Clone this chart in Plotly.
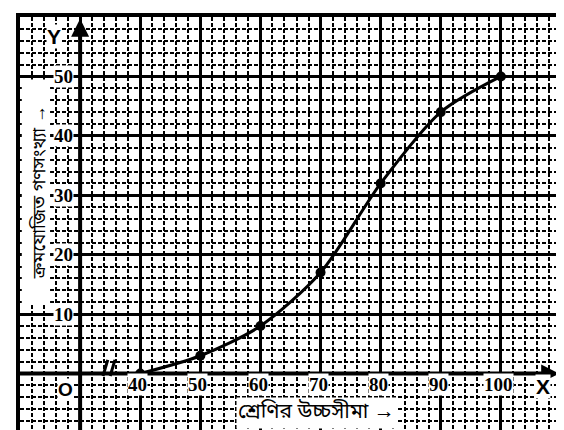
import plotly.graph_objects as go

# Data (read from the ogive)
upper_limits = [40, 50, 60, 70, 80, 90, 100]
cum_freq = [0, 3, 8, 17, 32, 44, 50]
x_tick_vals = [40, 50, 60, 70, 80, 90, 100]
x_tick_text = ["40", "50", "60", "70", "80", "90", "100"]
y_tick_vals = [10, 20, 30, 40, 50]
y_tick_text = ["10", "20", "30", "40", "50"]
x_title = "শ্রেণির উচ্চসীমা →"
y_title = "ক্রমযোজিত গণসংখ্যা →"

X0, X1 = 20, 110
Y0, Y1 = -10, 60
ORIGIN_X = 30

fig = go.Figure()
fig.add_trace(go.Scatter(
    x=upper_limits, y=cum_freq, mode="lines+markers",
    line=dict(color="black", width=3, shape="spline", smoothing=0.8),
    marker=dict(color="black", size=10),
    hoverinfo="x+y", showlegend=False,
))

axis_common = dict(
    showgrid=True, gridcolor="black", gridwidth=3,
    showline=True, linecolor="black", linewidth=3.5, mirror=True,
    zeroline=False, showticklabels=False, ticks="",
    minor=dict(dtick=2, showgrid=True, gridcolor="black", gridwidth=1.6,
               griddash="4px,2px"),
    fixedrange=True,
)
fig.update_xaxes(range=[X0, X1], dtick=10, tick0=0, **axis_common)
fig.update_yaxes(range=[Y0, Y1], dtick=10, tick0=0, **axis_common)

FONT = dict(family="Liberation Serif", size=19, color="black", weight="bold")
BN_FONT_X = dict(family="Noto Sans Bengali, Noto Sans, sans-serif", size=21, color="black")
BN_FONT_Y = dict(family="Noto Sans Bengali, Noto Sans, sans-serif", size=18, color="black")

shapes = []
# white panel behind y title
shapes.append(dict(type="rect", xref="x", yref="y", x0=X0 + 0.3, x1=25.0, y0=11.7, y1=49.5,
                   fillcolor="white", line=dict(width=0), layer="above"))
# x axis
shapes.append(dict(type="line", xref="x", yref="y", x0=X0, x1=X1 - 1.2, y0=0, y1=0,
                   line=dict(color="black", width=4), layer="above"))
# y axis
shapes.append(dict(type="line", xref="x", yref="y", x0=ORIGIN_X, x1=ORIGIN_X, y0=Y0, y1=Y1 - 1.2,
                   line=dict(color="black", width=4), layer="above"))
# axis break mark "//"
for bx in (33.8, 35.0):
    shapes.append(dict(type="line", xref="x", yref="y", x0=bx, x1=bx + 0.8, y0=-0.4, y1=2.3,
                       line=dict(color="black", width=3), layer="above"))
fig.update_layout(shapes=shapes)

ann = []
# axis arrows
ann.append(dict(x=X1 - 0.3, y=0, ax=X1 - 4, ay=0, xref="x", yref="y", axref="x", ayref="y",
                showarrow=True, arrowhead=2, arrowsize=1.2, arrowwidth=3, arrowcolor="black", text=""))
ann.append(dict(x=ORIGIN_X, y=Y1 - 0.3, ax=ORIGIN_X, ay=Y1 - 4, xref="x", yref="y", axref="x", ayref="y",
                showarrow=True, arrowhead=2, arrowsize=1.2, arrowwidth=3, arrowcolor="black", text=""))
for v, t in zip(x_tick_vals, x_tick_text):
    ann.append(dict(x=v - 0.4, y=-1.9, xref="x", yref="y", text=t, showarrow=False,
                    font=FONT, bgcolor="white", borderpad=0))
for v, t in zip(y_tick_vals, y_tick_text):
    ann.append(dict(x=27.3, y=v, xref="x", yref="y", text=t, showarrow=False,
                    font=FONT, bgcolor="white", borderpad=0))
ann.append(dict(x=27.6, y=-2.6, xref="x", yref="y", text="O", showarrow=False,
                font=dict(family="Liberation Sans", size=19, color="black", weight="bold"),
                bgcolor="white", borderpad=0))
ann.append(dict(x=107.0, y=-2.1, xref="x", yref="y", text="X", showarrow=False,
                font=dict(family="Liberation Sans", size=21, color="black", weight="bold"),
                bgcolor="white", borderpad=0))
ann.append(dict(x=25.6, y=56.8, xref="x", yref="y", text="Y", showarrow=False,
                font=dict(family="Liberation Sans", size=21, color="black", weight="bold"),
                bgcolor="white", borderpad=0))
ann.append(dict(x=69.3, y=-6.6, xref="x", yref="y", text=x_title, showarrow=False,
                font=BN_FONT_X, bgcolor="white", borderpad=1))
ann.append(dict(x=23.3, y=30.5, xref="x", yref="y", text=y_title, showarrow=False,
                textangle=-90, font=BN_FONT_Y))
fig.update_layout(annotations=ann)

fig.update_layout(
    width=564, height=430,
    margin=dict(l=12, r=11, t=5, b=5),
    paper_bgcolor="white", plot_bgcolor="white",
)
fig.write_html("out.html")
